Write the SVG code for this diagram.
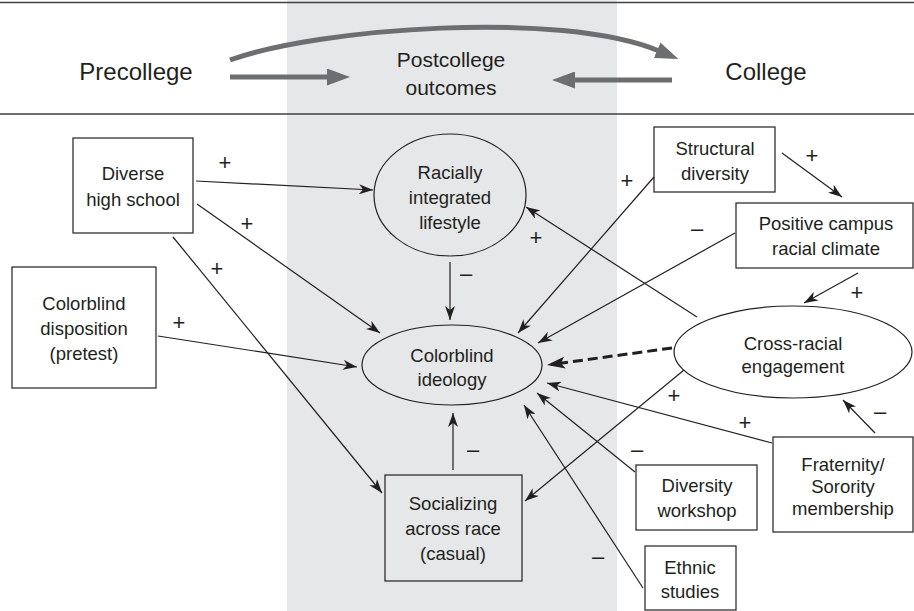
<svg xmlns="http://www.w3.org/2000/svg" width="914" height="611" viewBox="0 0 914 611">
<style>
text{font-family:"Liberation Sans",Arial,sans-serif;fill:#231f20;text-anchor:middle}
.node{font-size:18.5px}
.head{font-size:24px}
.mid{font-size:21px}
.lbl{font-size:22px}
.shape{fill:none;stroke:#231f20;stroke-width:1.2}
.conn{fill:none;stroke:#231f20;stroke-width:1.2;marker-end:url(#ah)}
.dash{fill:none;stroke:#231f20;stroke-width:3;stroke-dasharray:10 5;marker-end:url(#ahd)}
.big{fill:none;stroke:#6d6e71;stroke-width:5;marker-end:url(#ga)}
.rule{stroke:#414042;stroke-width:1.5}
</style>
<defs>
<marker id="ah" markerUnits="userSpaceOnUse" viewBox="0 0 14 10" markerWidth="14" markerHeight="10" refX="14" refY="5" orient="auto"><path d="M0,0 L14,5 L0,10 L4,5 z" fill="#231f20"/></marker>
<marker id="ahd" markerUnits="userSpaceOnUse" viewBox="0 0 18 12" markerWidth="18" markerHeight="12" refX="14" refY="6" orient="auto"><path d="M0,0 L18,6 L0,12 L4,6 z" fill="#231f20"/></marker>
<marker id="ga" markerUnits="userSpaceOnUse" viewBox="0 0 23 17" markerWidth="23" markerHeight="17" refX="2" refY="8.5" orient="auto"><path d="M0,0 L23,8.5 L0,17 z" fill="#6d6e71"/></marker>
</defs>
<rect x="0" y="0" width="914" height="611" fill="#ffffff"/>
<rect x="287" y="0" width="330" height="611" fill="#e6e7e8"/>
<line class="rule" x1="0" y1="2.5" x2="914" y2="2.5"/>
<line class="rule" x1="0" y1="114" x2="914" y2="114"/>
<g id="header">
<text class="head" x="136" y="80">Precollege</text>
<text class="mid" x="451" y="67">Postcollege</text>
<text class="mid" x="451" y="95">outcomes</text>
<text class="head" x="766" y="80">College</text>
<path class="big" d="M230,60 C320,28 560,10 659,51"/>
<path class="big" d="M230,77 L329,77"/>
<path class="big" d="M672,80 L573,80"/>
</g>
<g id="connectors">
<path class="conn" d="M196,181 L373,190"/>
<path class="conn" d="M197,204 L380,333"/>
<path class="conn" d="M173,237 L382,493"/>
<path class="conn" d="M158,336 L357,367"/>
<path class="conn" d="M450,262 L450,320"/>
<path class="conn" d="M453,470 L453,413"/>
<path class="conn" d="M654,177 L518,333"/>
<path class="conn" d="M735,233 L538,343"/>
<path class="conn" d="M782,153 L842,197"/>
<path class="conn" d="M858,273 L804,303"/>
<path class="conn" d="M697,317 L526,207"/>
<path class="dash" d="M672,348 L551,364.5"/>
<path class="conn" d="M684,370 L525,501"/>
<path class="conn" d="M772,443 L547,383"/>
<path class="conn" d="M635,472 L537,393"/>
<path class="conn" d="M643,588 L524,405"/>
<path class="conn" d="M875,433 L843,400"/>
</g>
<g id="labels">
<text class="lbl" x="225" y="169.5">+</text>
<text class="lbl" x="247" y="230.5">+</text>
<text class="lbl" x="217" y="275.5">+</text>
<text class="lbl" x="179" y="329.5">+</text>
<text class="lbl" x="466" y="281">–</text>
<text class="lbl" x="473" y="457">–</text>
<text class="lbl" x="627" y="187.5">+</text>
<text class="lbl" x="697" y="236">–</text>
<text class="lbl" x="812" y="162.5">+</text>
<text class="lbl" x="857" y="299.5">+</text>
<text class="lbl" x="536" y="244.5">+</text>
<text class="lbl" x="674" y="402.5">+</text>
<text class="lbl" x="745" y="429.5">+</text>
<text class="lbl" x="637" y="457">–</text>
<text class="lbl" x="598" y="564">–</text>
<text class="lbl" x="880" y="419">–</text>
</g>
<g id="diverse-high-school">
<rect class="shape" x="73" y="138" width="120" height="95"/>
<text class="node" x="133" y="180">Diverse</text>
<text class="node" x="133" y="206">high school</text>
</g>
<g id="colorblind-disposition">
<rect class="shape" x="12" y="267" width="144" height="121"/>
<text class="node" x="84" y="310">Colorblind</text>
<text class="node" x="84" y="335">disposition</text>
<text class="node" x="84" y="360">(pretest)</text>
</g>
<g id="racially-integrated-lifestyle">
<ellipse class="shape" cx="450" cy="195" rx="76" ry="61"/>
<text class="node" x="450" y="179">Racially</text>
<text class="node" x="450" y="204">integrated</text>
<text class="node" x="450" y="229">lifestyle</text>
</g>
<g id="colorblind-ideology">
<ellipse class="shape" cx="452" cy="365" rx="90" ry="40"/>
<text class="node" x="452" y="362">Colorblind</text>
<text class="node" x="452" y="386">ideology</text>
</g>
<g id="socializing-across-race">
<rect class="shape" x="385" y="475" width="137" height="106"/>
<text class="node" x="453" y="510">Socializing</text>
<text class="node" x="453" y="535">across race</text>
<text class="node" x="453" y="560">(casual)</text>
</g>
<g id="structural-diversity">
<rect class="shape" x="654" y="127" width="121" height="65"/>
<text class="node" x="715" y="155">Structural</text>
<text class="node" x="715" y="180">diversity</text>
</g>
<g id="positive-campus-racial-climate">
<rect class="shape" x="736" y="203" width="177" height="65"/>
<text class="node" x="826" y="230">Positive campus</text>
<text class="node" x="826" y="255">racial climate</text>
</g>
<g id="cross-racial-engagement">
<ellipse class="shape" cx="793" cy="352" rx="119" ry="46"/>
<text class="node" x="793" y="350">Cross-racial</text>
<text class="node" x="793" y="373">engagement</text>
</g>
<g id="diversity-workshop">
<rect class="shape" x="636" y="465" width="121" height="65"/>
<text class="node" x="697" y="492">Diversity</text>
<text class="node" x="697" y="517">workshop</text>
</g>
<g id="fraternity-sorority-membership">
<rect class="shape" x="773" y="437" width="140" height="95"/>
<text class="node" x="843" y="471">Fraternity/</text>
<text class="node" x="843" y="493">Sorority</text>
<text class="node" x="843" y="515">membership</text>
</g>
<g id="ethnic-studies">
<rect class="shape" x="645" y="546" width="91" height="64"/>
<text class="node" x="690" y="574">Ethnic</text>
<text class="node" x="690" y="598">studies</text>
</g>
</svg>
